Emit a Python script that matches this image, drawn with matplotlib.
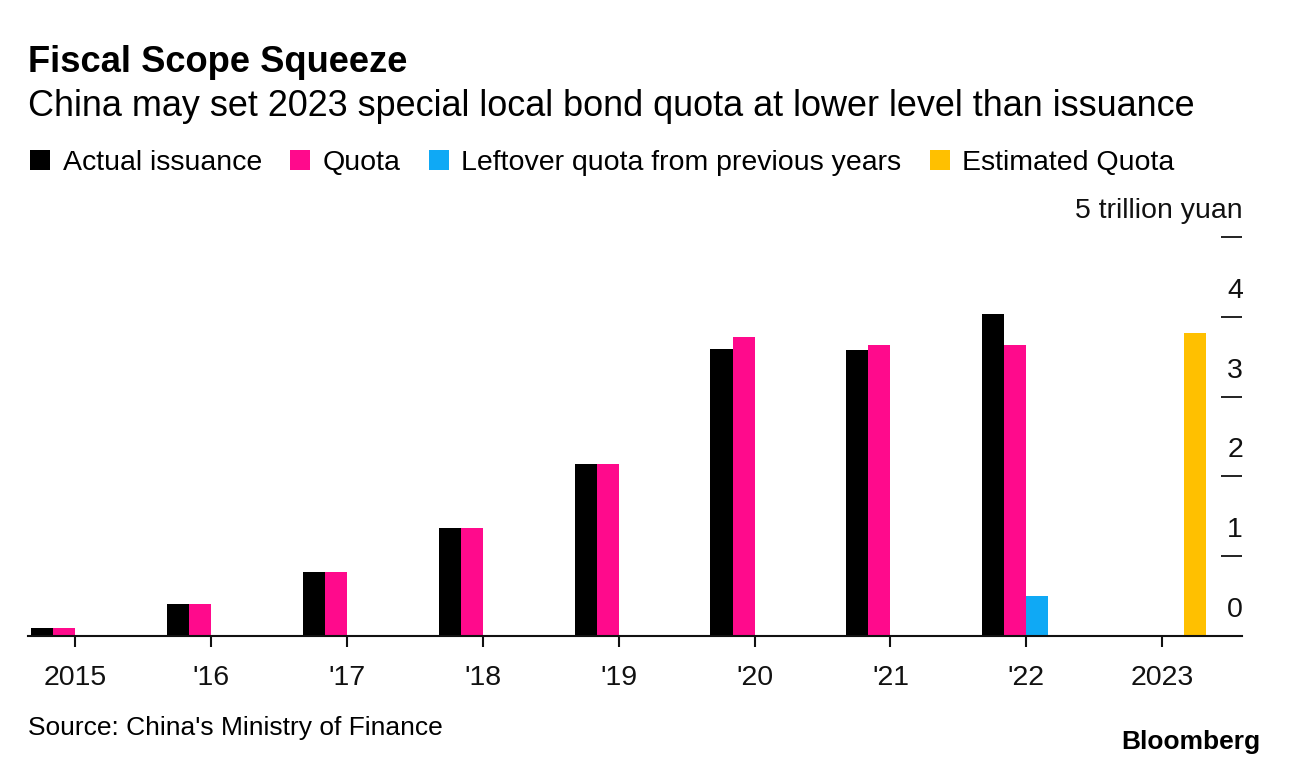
import numpy as np
import matplotlib
matplotlib.use("Agg")
import matplotlib.pyplot as plt
import matplotlib.transforms as mtransforms
from matplotlib.lines import Line2D

plt.rcParams['font.family'] = ['Liberation Sans', 'DejaVu Sans']

# data (trillion yuan)
years = ['2015', "'16", "'17", "'18", "'19", "'20", "'21", "'22", '2023']
actual = [0.1, 0.4, 0.8, 1.35, 2.15, 3.6, 3.58, 4.04, 0]
quota = [0.1, 0.4, 0.8, 1.35, 2.15, 3.75, 3.65, 3.65, 0]
leftover = [0, 0, 0, 0, 0, 0, 0, 0.5, 0]
estimated = [0, 0, 0, 0, 0, 0, 0, 0, 3.8]

series = [
    ("Actual issuance", actual, "#000000"),
    ("Quota", quota, "#ff0a8c"),
    ("Leftover quota from previous years", leftover, "#0fa9f5"),
    ("Estimated Quota", estimated, "#ffc000"),
]
yticks = [0, 1, 2, 3, 4, 5]
ytick_labels = ['0', '1', '2', '3', '4', '5 trillion yuan']

W, H = 1289, 768
fig = plt.figure(figsize=(W / 100, H / 100), dpi=100)
ax = fig.add_axes([28 / W, 1 - 636 / H, (1242 - 28) / W, (636 - 237) / H])

x = np.arange(len(years))
bw = 0.162
for i, (name, vals, col) in enumerate(series):
    ax.bar(x + (i - 1.5) * bw, vals, width=bw, color=col, linewidth=0, label=name)

ax.set_xlim(-0.346, 8.587)
ax.set_ylim(0, 5)

for s in ['top', 'left', 'right']:
    ax.spines[s].set_visible(False)
ax.spines['bottom'].set_linewidth(1.5)
ax.spines['bottom'].set_color('#111111')

ax.set_xticks(x)
ax.set_xticklabels(years, fontsize=20.5)
ax.tick_params(axis='x', direction='out', length=8, width=1.5, pad=13, colors='#111111')

ax.set_yticks(yticks)
ax.set_yticklabels([])
ax.tick_params(axis='y', left=False, right=True, direction='in', length=15, width=1.3, colors='#111111')

lab_tr = mtransforms.offset_copy(ax.get_yaxis_transform(), fig=fig, x=1, y=26, units='dots')
for v, lab in zip(yticks, ytick_labels):
    ax.text(1.0, v, lab, transform=lab_tr, ha='right', va='center', fontsize=20.5, color='#111111')

fig.text(28 / W, 1 - 62 / H, "Fiscal Scope Squeeze", fontsize=26.2, fontweight='bold', va='center', ha='left')
fig.text(28 / W, 1 - 106 / H, "China may set 2023 special local bond quota at lower level than issuance",
         fontsize=25.9, va='center', ha='left')

handles = [Line2D([], [], marker='s', linestyle='none', markersize=14.4, color=c, markeredgewidth=0)
           for _, _, c in series]
fig.legend(handles, [n for n, _, _ in series], loc='center left', bbox_to_anchor=(29 / W, 1 - 163 / H),
           ncol=4, frameon=False, fontsize=20.5, handlelength=0.8, handletextpad=0.38, columnspacing=0.95,
           borderaxespad=0, borderpad=0)

fig.text(28 / W, 1 - 728 / H, "Source: China's Ministry of Finance", fontsize=19, va='center', ha='left')
fig.text(1260 / W, 1 - 742 / H, "Bloomberg", fontsize=19, fontweight='bold', va='center', ha='right')

fig.savefig("out.png", dpi=100)
